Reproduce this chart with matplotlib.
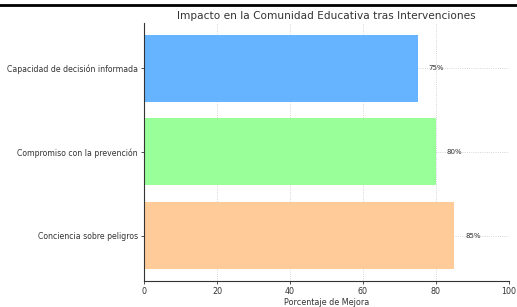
import matplotlib.pyplot as plt
from matplotlib.lines import Line2D

categories = ['Conciencia sobre peligros', 'Compromiso con la prevención', 'Capacidad de decisión informada']
values = [85, 80, 75]
colors = ['#ffcc99', '#99ff99', '#66b3ff']

fig = plt.figure(figsize=(5.17, 3.07), dpi=100)
ax = fig.add_axes([0.2785, 0.085, 0.706, 0.84])

bars = ax.barh(categories, values, color=colors, height=0.8)
for bar, v in zip(bars, values):
    ax.text(bar.get_width() + 3, bar.get_y() + bar.get_height() / 2, f'{v}%',
            va='center', ha='left', fontsize=5, color='#333333')

ax.set_xlim(0, 100)
ax.set_xlabel('Porcentaje de Mejora', fontsize=5.8, color='#333333', labelpad=1.5)
ax.set_title('Impacto en la Comunidad Educativa tras Intervenciones', fontsize=7.6,
             color='#333333', pad=3)
ax.tick_params(axis='y', labelsize=5.6)
ax.tick_params(axis='x', labelsize=5.8)
ax.tick_params(colors='#333333', length=2.5, width=0.6, pad=2)
ax.grid(True, linestyle=':', color='#c8c8c8', linewidth=0.6)
ax.set_axisbelow(True)
for s in ['top', 'right']:
    ax.spines[s].set_visible(False)
for s in ['left', 'bottom']:
    ax.spines[s].set_color('#333333')
    ax.spines[s].set_linewidth(0.8)

fig.add_artist(Line2D([0, 1], [0.983, 0.983], transform=fig.transFigure, color='black', linewidth=2))

fig.savefig('out.png', dpi=100)
